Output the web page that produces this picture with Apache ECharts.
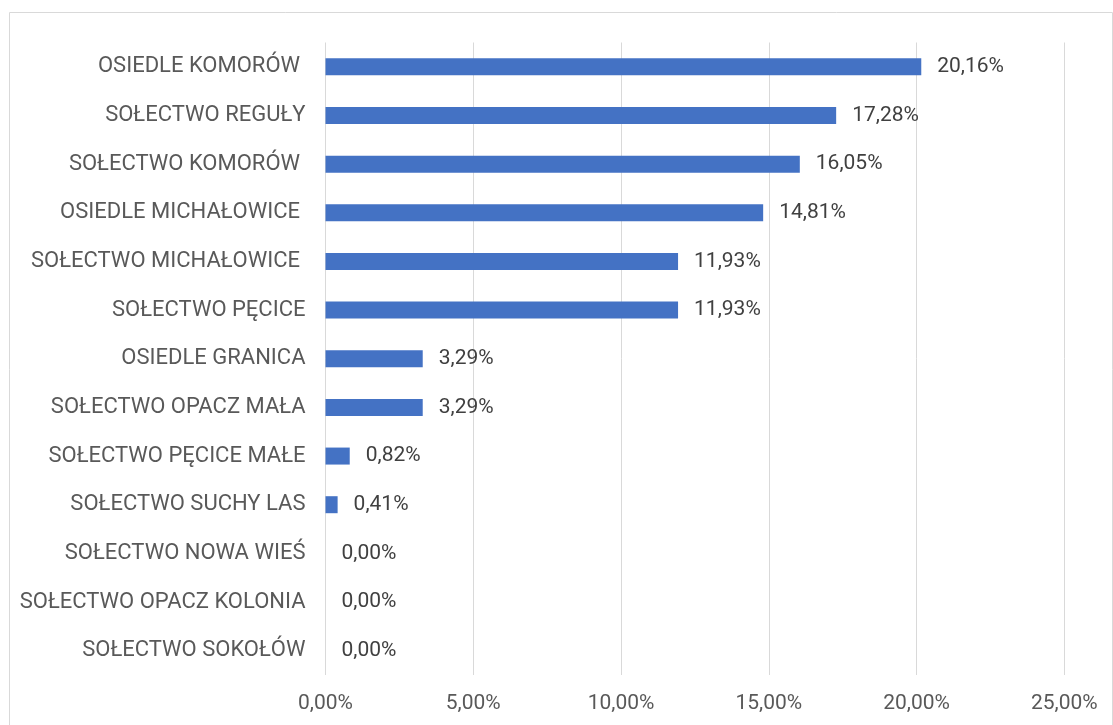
<!DOCTYPE html>
<html>
<head>
<meta charset="utf-8">
<script src="https://cdn.jsdelivr.net/npm/echarts@6/dist/echarts.min.js"></script>
<style>
  html, body { margin: 0; padding: 0; background: #fff; }
  #chart { width: 1113px; height: 725px; }
</style>
</head>
<body>
<div id="chart"></div>
<script>
// kategorie (trailing spaces kept as in the source sheet)
const categories = [
  'OSIEDLE KOMORÓW ',
  'SOŁECTWO REGUŁY',
  'SOŁECTWO KOMORÓW ',
  'OSIEDLE MICHAŁOWICE ',
  'SOŁECTWO MICHAŁOWICE ',
  'SOŁECTWO PĘCICE',
  'OSIEDLE GRANICA',
  'SOŁECTWO OPACZ MAŁA',
  'SOŁECTWO PĘCICE MAŁE',
  'SOŁECTWO SUCHY LAS',
  'SOŁECTWO NOWA WIEŚ',
  'SOŁECTWO OPACZ KOLONIA',
  'SOŁECTWO SOKOŁÓW'
];
// udział procentowy
const values = [20.16, 17.28, 16.05, 14.81, 11.93, 11.93, 3.29, 3.29, 0.82, 0.41, 0, 0, 0];
const xTicks = { min: 0, max: 25, interval: 5 };

const FONT = 'Roboto, sans-serif';
const fmt = v => v.toFixed(2).replace('.', ',') + '%';

const chart = echarts.init(document.getElementById('chart'));
chart.setOption({
  animation: false,
  textStyle: { fontFamily: FONT },
  graphic: [{
    type: 'rect',
    silent: true,
    shape: { x: 9.5, y: 12.5, width: 1103, height: 730 },
    style: { fill: 'none', stroke: '#d9d9d9', lineWidth: 1 }
  }],
  grid: {
    left: 325.5,
    right: 48.7,
    top: 42.5,
    bottom: 50,
    containLabel: false,
    outerBoundsMode: 'none'
  },
  xAxis: {
    type: 'value',
    min: xTicks.min,
    max: xTicks.max,
    interval: xTicks.interval,
    axisLine: { show: false },
    axisTick: { show: false },
    splitLine: { lineStyle: { color: '#d9d9d9', width: 1 } },
    axisLabel: {
      margin: 18,
      color: '#595959',
      fontSize: 21,
      fontFamily: FONT,
      formatter: fmt
    }
  },
  yAxis: {
    type: 'category',
    inverse: true,
    data: categories,
    axisLine: { show: false },
    axisTick: { show: false },
    axisLabel: {
      margin: 20,
      color: '#595959',
      fontSize: 22,
      fontFamily: FONT
    }
  },
  series: [{
    type: 'bar',
    data: values,
    barWidth: 17,
    itemStyle: { color: '#4472C4' },
    label: {
      show: true,
      position: 'right',
      distance: 16,
      color: '#404040',
      fontSize: 21,
      fontFamily: FONT,
      formatter: p => fmt(p.value)
    }
  }]
});
</script>
</body>
</html>
